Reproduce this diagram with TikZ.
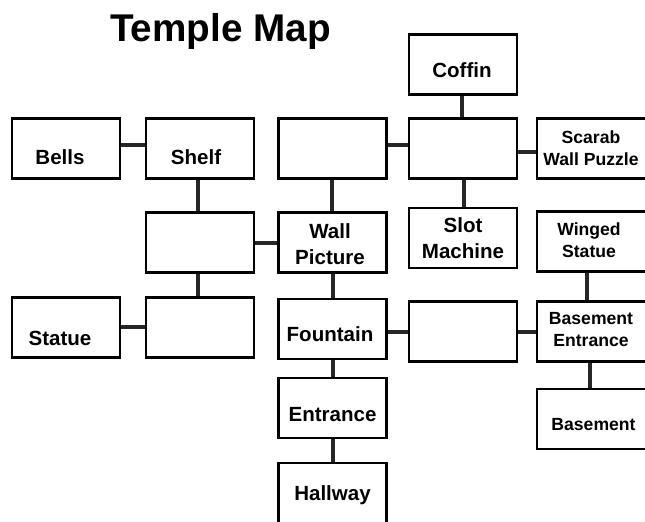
\documentclass[tikz,border=0pt]{standalone}
\usepackage{fontspec}
\setmainfont{Liberation Sans}
\usetikzlibrary{positioning}

\begin{document}
\begin{tikzpicture}[
    x=0.75pt, y=-0.75pt,
    room/.style={draw, line width=2.2pt, minimum width=81pt, minimum height=45pt, inner sep=0pt},
    wide/.style={minimum width=90pt},
    big/.style={font=\fontsize{15.4}{19.5}\selectfont\bfseries, align=center, inner sep=0pt},
    small/.style={font=\fontsize{13.2}{16.5}\selectfont\bfseries, align=center, inner sep=0pt},
    link/.style={line width=3pt, draw=black!85}
]
    \clip (0, 0) rectangle (645, 521);
    \fill[white] (0, 0) rectangle (645, 521);

    % Title
    \node[font=\fontsize{29}{32}\selectfont\bfseries, anchor=base, inner sep=0pt] (title) at (220.5, 41.5) {Temple Map};

    % Rooms, top row
    \node[room] (coffin) at (463, 64.5) {};
    \node[room] (bells) at (66, 148.5) {};
    \node[room] (shelf) at (200, 148.5) {};
    \node[room] (upper) at (332.5, 148.5) {};
    \node[room] (hub) at (463, 148.5) {};
    \node[room, wide] (scarab) at (597, 148.5) {};

    % Rooms, second row
    \node[room] (passage) at (200, 242.5) {};
    \node[room] (wallpic) at (332.5, 242.5) {};
    \node[room] (slot) at (463, 238) {};
    \node[room, wide] (winged) at (597, 241.5) {};

    % Rooms, third row
    \node[room] (statue) at (66, 327.5) {};
    \node[room] (lower) at (200, 327.5) {};
    \node[room] (fountain) at (332.5, 329) {};
    \node[room] (corridor) at (463, 331.5) {};
    \node[room, wide] (basent) at (597, 331.5) {};

    % Rooms, bottom
    \node[room] (entrance) at (332.5, 408) {};
    \node[room] (hallway) at (332.5, 493) {};
    \node[room, wide] (basement) at (597, 419) {};

    % Labels
    \node[big, anchor=base] (coffin-t) at (462, 77) {Coffin};
    \node[big, anchor=base] (bells-t) at (60, 164) {Bells};
    \node[big, anchor=base] (shelf-t) at (196, 164) {Shelf};
    \node[small] (scarab-t) at (591, 148) {Scarab\\Wall Puzzle};
    \node[big] (wallpic-t) at (330, 244) {Wall\\Picture};
    \node[big] (slot-t) at (463, 238) {Slot\\Machine};
    \node[small] (winged-t) at (589, 240) {Winged\\Statue};
    \node[big, anchor=base] (statue-t) at (60, 345) {Statue};
    \node[big, anchor=base] (fountain-t) at (330, 341.5) {Fountain};
    \node[small] (basent-t) at (591, 330) {Basement\\Entrance};
    \node[big, anchor=base] (entrance-t) at (332.5, 421.5) {Entrance};
    \node[big, anchor=base] (hallway-t) at (332.5, 500) {Hallway};
    \node[small, anchor=base] (basement-t) at (593.5, 430) {Basement};

    % Connections
    \draw[link] (bells.east |- 0, 145) -- (shelf.west |- 0, 145);
    \draw[link] (upper.east |- 0, 145) -- (hub.west |- 0, 145);
    \draw[link] (hub.east |- 0, 152) -- (scarab.west |- 0, 152);
    \draw[link] (coffin.south -| 462, 0) -- (hub.north -| 462, 0);
    \draw[link] (shelf.south -| 198, 0) -- (passage.north -| 198, 0);
    \draw[link] (upper.south -| 332, 0) -- (wallpic.north -| 332, 0);
    \draw[link] (hub.south -| 464, 0) -- (slot.north -| 464, 0);
    \draw[link] (passage.east |- 0, 243) -- (wallpic.west |- 0, 243);
    \draw[link] (passage.south -| 198, 0) -- (lower.north -| 198, 0);
    \draw[link] (statue.east |- 0, 327) -- (lower.west |- 0, 327);
    \draw[link] (wallpic) -- (fountain);
    \draw[link] (winged.south -| 587, 0) -- (basent.north -| 587, 0);
    \draw[link] (fountain.east |- 0, 332) -- (corridor.west |- 0, 332);
    \draw[link] (corridor.east |- 0, 332) -- (basent.west |- 0, 332);
    \draw[link] (fountain) -- (entrance);
    \draw[link] (entrance) -- (hallway);
    \draw[link] (basent.south -| 590, 0) -- (basement.north -| 590, 0);
\end{tikzpicture}
\end{document}
